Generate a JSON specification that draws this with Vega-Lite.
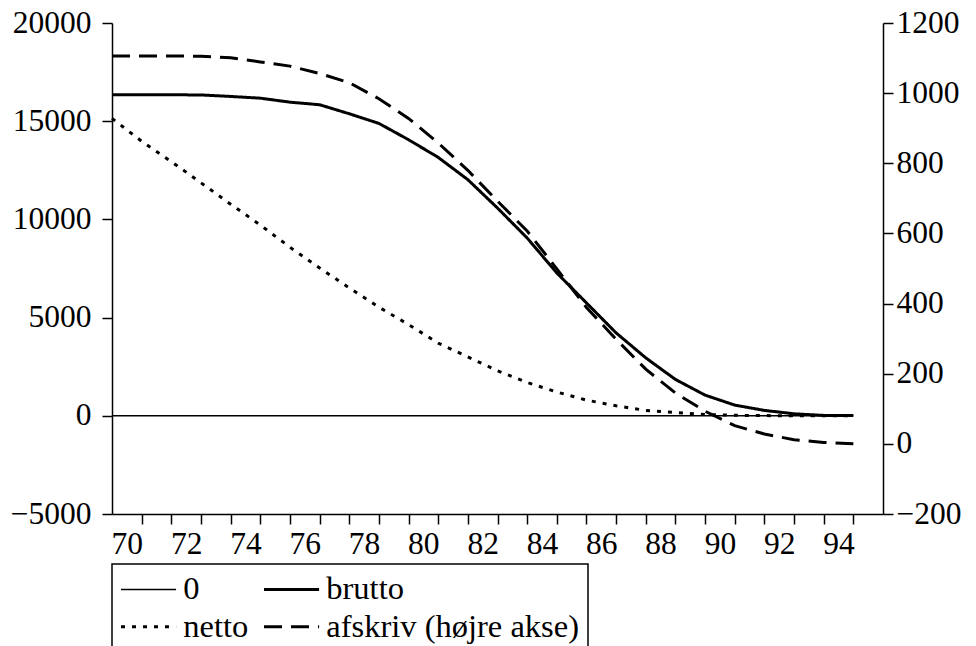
{
  "$schema": "https://vega.github.io/schema/vega-lite/v6.json",
  "autosize": {"type": "none"},
  "width": 771,
  "height": 491,
  "padding": {"left": 112, "top": 23, "right": 93, "bottom": 132},
  "background": "white",
  "config": {
    "font": "Times New Roman",
    "view": {"stroke": null},
    "axis": {
      "domainColor": "black", "domainWidth": 1.5,
      "tickColor": "black", "tickWidth": 1.5, "tickSize": 10,
      "labelFont": "Times New Roman", "labelFontSize": 31.5, "labelColor": "black",
      "grid": false, "title": null
    }
  },
  "data": {"values": [
    {"t":70,"series":"0","v":0},{"t":71,"series":"0","v":0},{"t":72,"series":"0","v":0},{"t":73,"series":"0","v":0},{"t":74,"series":"0","v":0},{"t":75,"series":"0","v":0},{"t":76,"series":"0","v":0},{"t":77,"series":"0","v":0},{"t":78,"series":"0","v":0},{"t":79,"series":"0","v":0},{"t":80,"series":"0","v":0},{"t":81,"series":"0","v":0},{"t":82,"series":"0","v":0},{"t":83,"series":"0","v":0},{"t":84,"series":"0","v":0},{"t":85,"series":"0","v":0},{"t":86,"series":"0","v":0},{"t":87,"series":"0","v":0},{"t":88,"series":"0","v":0},{"t":89,"series":"0","v":0},{"t":90,"series":"0","v":0},{"t":91,"series":"0","v":0},{"t":92,"series":"0","v":0},{"t":93,"series":"0","v":0},{"t":94,"series":"0","v":0},{"t":95,"series":"0","v":0},
    {"t":70,"series":"netto","v":15144},{"t":71,"series":"netto","v":13978},{"t":72,"series":"netto","v":12944},{"t":73,"series":"netto","v":11864},{"t":74,"series":"netto","v":10775},{"t":75,"series":"netto","v":9716},{"t":76,"series":"netto","v":8585},{"t":77,"series":"netto","v":7526},{"t":78,"series":"netto","v":6513},{"t":79,"series":"netto","v":5535},{"t":80,"series":"netto","v":4644},{"t":81,"series":"netto","v":3702},{"t":82,"series":"netto","v":2999},{"t":83,"series":"netto","v":2296},{"t":84,"series":"netto","v":1696},{"t":85,"series":"netto","v":1212},{"t":86,"series":"netto","v":799},{"t":87,"series":"netto","v":509},{"t":88,"series":"netto","v":275},{"t":89,"series":"netto","v":168},{"t":90,"series":"netto","v":61},{"t":91,"series":"netto","v":25},{"t":92,"series":"netto","v":10},{"t":93,"series":"netto","v":5},{"t":94,"series":"netto","v":2},{"t":95,"series":"netto","v":0},
    {"t":70,"series":"brutto","v":16346},{"t":71,"series":"brutto","v":16346},{"t":72,"series":"brutto","v":16346},{"t":73,"series":"brutto","v":16336},{"t":74,"series":"brutto","v":16260},{"t":75,"series":"brutto","v":16173},{"t":76,"series":"brutto","v":15970},{"t":77,"series":"brutto","v":15838},{"t":78,"series":"brutto","v":15380},{"t":79,"series":"brutto","v":14887},{"t":80,"series":"brutto","v":14058},{"t":81,"series":"brutto","v":13157},{"t":82,"series":"brutto","v":12023},{"t":83,"series":"brutto","v":10579},{"t":84,"series":"brutto","v":9053},{"t":85,"series":"brutto","v":7273},{"t":86,"series":"brutto","v":5747},{"t":87,"series":"brutto","v":4221},{"t":88,"series":"brutto","v":2950},{"t":89,"series":"brutto","v":1851},{"t":90,"series":"brutto","v":1053},{"t":91,"series":"brutto","v":544},{"t":92,"series":"brutto","v":275},{"t":93,"series":"brutto","v":102},{"t":94,"series":"brutto","v":20},{"t":95,"series":"brutto","v":10},
    {"t":70,"series":"afskriv (højre akse)","v":1106},{"t":71,"series":"afskriv (højre akse)","v":1106},{"t":72,"series":"afskriv (højre akse)","v":1106},{"t":73,"series":"afskriv (højre akse)","v":1105},{"t":74,"series":"afskriv (højre akse)","v":1101},{"t":75,"series":"afskriv (højre akse)","v":1089},{"t":76,"series":"afskriv (højre akse)","v":1077},{"t":77,"series":"afskriv (højre akse)","v":1056},{"t":78,"series":"afskriv (højre akse)","v":1030},{"t":79,"series":"afskriv (højre akse)","v":984},{"t":80,"series":"afskriv (højre akse)","v":928},{"t":81,"series":"afskriv (højre akse)","v":858},{"t":82,"series":"afskriv (højre akse)","v":780},{"t":83,"series":"afskriv (højre akse)","v":692},{"t":84,"series":"afskriv (højre akse)","v":607},{"t":85,"series":"afskriv (højre akse)","v":499},{"t":86,"series":"afskriv (højre akse)","v":389},{"t":87,"series":"afskriv (højre akse)","v":298},{"t":88,"series":"afskriv (højre akse)","v":213},{"t":89,"series":"afskriv (højre akse)","v":145},{"t":90,"series":"afskriv (højre akse)","v":93},{"t":91,"series":"afskriv (højre akse)","v":52},{"t":92,"series":"afskriv (højre akse)","v":28},{"t":93,"series":"afskriv (højre akse)","v":12},{"t":94,"series":"afskriv (højre akse)","v":4},{"t":95,"series":"afskriv (højre akse)","v":0}
  ]},
  "encoding": {
    "x": {
      "field": "t", "type": "quantitative",
      "scale": {"domain": [70, 96], "nice": false, "zero": false},
      "axis": {
        "values": [70.5,71.5,72.5,73.5,74.5,75.5,76.5,77.5,78.5,79.5,80.5,81.5,82.5,83.5,84.5,85.5,86.5,87.5,88.5,89.5,90.5,91.5,92.5,93.5,94.5],
        "tickOffset": 14.83,
        "labelOffset": -14.83,
        "labelPadding": 4,
        "labelFlush": false,
        "labelOverlap": false,
        "labelExpr": "floor(datum.value) % 2 === 0 ? format(floor(datum.value), 'd') : ''"
      }
    },
    "strokeDash": {
      "field": "series", "type": "nominal",
      "scale": {
        "domain": ["0", "brutto", "netto", "afskriv (højre akse)"],
        "range": [[1, 0], [1, 0], [4, 7], [18, 9]]
      },
      "legend": {
        "title": null,
        "orient": "none",
        "legendX": 0,
        "legendY": 541,
        "columns": 2,
        "direction": "horizontal",
        "padding": 9,
        "rowPadding": 4.5,
        "columnPadding": 9,
        "strokeColor": "black",
        "fillColor": "white",
        "labelFont": "Times New Roman",
        "labelFontSize": 32.5,
        "labelColor": "black",
        "labelLimit": 400,
        "labelOffset": 18.5,
        "symbolType": "M-1.9,0H1.9",
        "symbolSize": 841,
        "symbolOffset": 11.3,
        "symbolStrokeColor": "black",
        "symbolStrokeWidth": 3,
        "encode": {
          "symbols": {"update": {"strokeWidth": {"signal": "datum.value === '0' ? 1.5 : 3"}}},
          "legend": {"update": {"strokeWidth": {"value": 1.5}}}
        }
      }
    }
  },
  "layer": [
    {
      "transform": [{"filter": "datum.series !== 'afskriv (højre akse)'"}],
      "mark": {"type": "line", "color": "black", "strokeCap": "butt"},
      "encoding": {
        "y": {
          "field": "v", "type": "quantitative",
          "scale": {"domain": [-5000, 20000], "nice": false, "zero": false},
          "axis": {"orient": "left", "values": [-5000, 0, 5000, 10000, 15000, 20000], "labelPadding": 11, "format": "d"}
        },
        "strokeWidth": {"condition": {"test": "datum.series === '0'", "value": 1.5}, "value": 3}
      }
    },
    {
      "transform": [{"filter": "datum.series === 'afskriv (højre akse)'"}],
      "mark": {"type": "line", "color": "black", "strokeWidth": 3, "strokeCap": "butt"},
      "encoding": {
        "y": {
          "field": "v", "type": "quantitative",
          "scale": {"domain": [-200, 1200], "nice": false, "zero": false},
          "axis": {"orient": "right", "values": [-200, 0, 200, 400, 600, 800, 1000, 1200], "labelPadding": 3, "format": "d"}
        }
      }
    }
  ],
  "resolve": {"scale": {"y": "independent"}, "axis": {"y": "independent"}}
}
